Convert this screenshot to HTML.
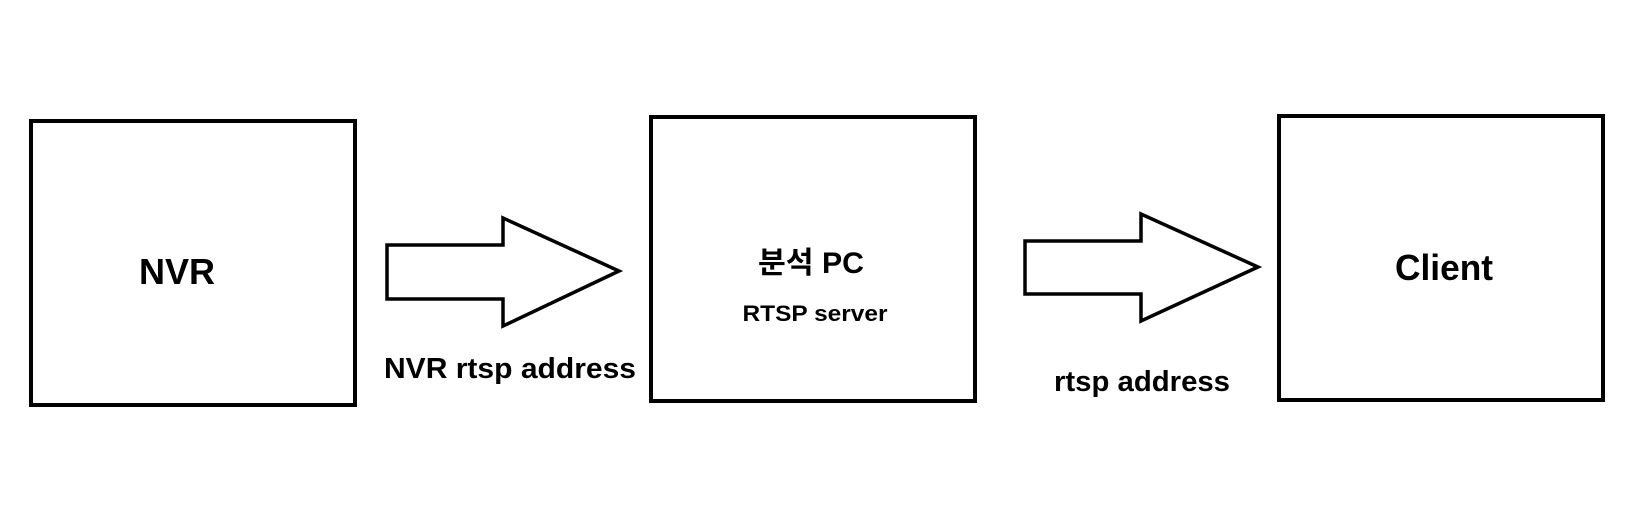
<!DOCTYPE html>
<html><head><meta charset="utf-8"><style>
html,body{margin:0;padding:0;background:#fff;width:1650px;height:527px;overflow:hidden}
svg text{font-family:"Liberation Sans","Noto Sans CJK KR",sans-serif;font-weight:bold;fill:#000}
</style></head><body>
<svg width="1650" height="527" viewBox="0 0 1650 527" xmlns="http://www.w3.org/2000/svg">
<g fill="none" stroke="#000" stroke-width="4">
<rect x="31" y="121" width="324" height="284"/>
<rect x="651" y="117" width="324" height="284"/>
<rect x="1279" y="116" width="324" height="284"/>
<polygon points="387,245 503,245 503,218 619,271 503,326 503,299 387,299" stroke-width="3.5"/>
<polygon points="1025,241 1141,241 1141,214 1258,267 1141,321 1141,294 1025,294" stroke-width="3.5"/>
</g>
<text x="177" y="284" font-size="36" text-anchor="middle" textLength="76" lengthAdjust="spacingAndGlyphs">NVR</text>
<text x="811" y="273" font-size="30" text-anchor="middle" textLength="106" lengthAdjust="spacingAndGlyphs">분석 PC</text>
<text x="815" y="321" font-size="22" text-anchor="middle" textLength="145" lengthAdjust="spacingAndGlyphs">RTSP server</text>
<text x="1444" y="280" font-size="36" text-anchor="middle" textLength="98" lengthAdjust="spacingAndGlyphs">Client</text>
<text x="510" y="378" font-size="29" text-anchor="middle" textLength="252" lengthAdjust="spacingAndGlyphs">NVR rtsp address</text>
<text x="1142" y="391" font-size="29" text-anchor="middle" textLength="176" lengthAdjust="spacingAndGlyphs">rtsp address</text>
</svg>
</body></html>
